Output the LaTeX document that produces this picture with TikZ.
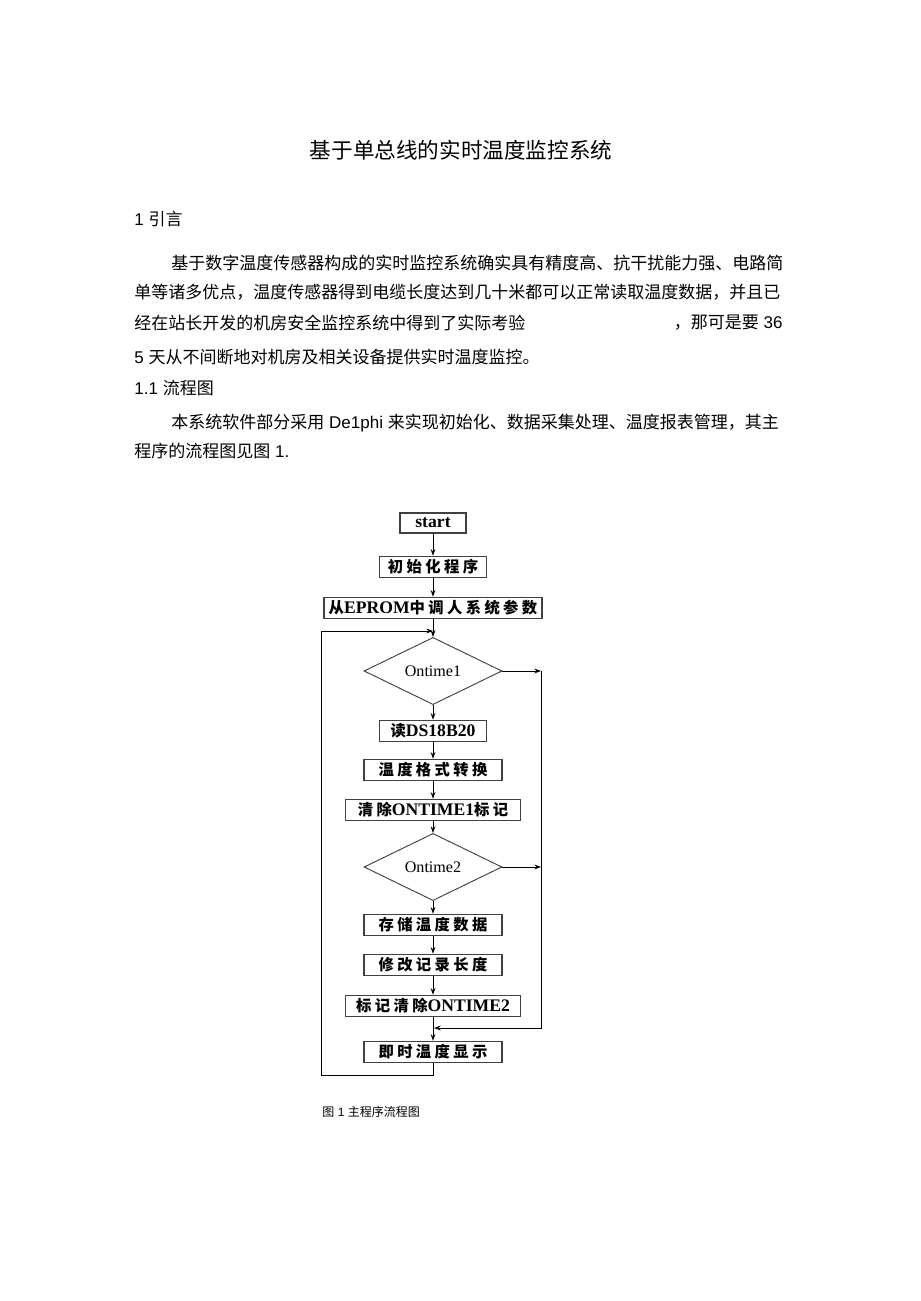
\documentclass[tikz,border=0pt]{standalone}
\usepackage{fontspec}
\setmainfont{Noto Sans CJK SC}
\newfontfamily\latin{Liberation Sans}
\newfontfamily\boxlatin[Scale=1.15]{Liberation Serif}
\newfontfamily\boxcjk[LetterSpace=22]{Noto Sans CJK SC}
\usepackage{tikz}
\usetikzlibrary{arrows.meta, shapes.geometric}

\tikzset{
  para/.style={anchor=west, inner sep=0, font=\fontsize{12.75pt}{15pt}\selectfont},
  stepbox/.style={draw=black!75, line width=0.9pt, minimum height=16pt, inner sep=0,
                  font=\fontsize{11.5pt}{12pt}\selectfont\boxcjk\bfseries},
  test/.style={draw=black!75, line width=0.7pt, diamond, minimum width=103.5pt, minimum height=42.75pt,
               inner sep=0, font=\fontsize{10.5pt}{12pt}\selectfont\boxlatin},
}

\begin{document}
\begin{tikzpicture}[x=0.75pt, y=-0.75pt, >={Stealth[length=5pt,width=3.6pt]}, line width=0.7pt]
             \useasboundingbox (0,0) rectangle (920,1301);
             \node[font=\fontsize{16.2pt}{18pt}\selectfont] (title) at (461,150) {基于单总线的实时温度监控系统};
             \node[para] (sec1) at (134,219) {{\latin 1 }引言};
             \node[para] (p1) at (171,263) {基于数字温度传感器构成的实时监控系统确实具有精度高、抗干扰能力强、电路简};
             \node[para] (p2) at (134,292) {单等诸多优点，温度传感器得到电缆长度达到几十米都可以正常读取温度数据，并且已};
             \node[para] (p3) at (134,323) {经在站长开发的机房安全监控系统中得到了实际考验};
             \node[para, anchor=east] (p3b) at (783,323) {，那可是要{\latin\ 36}};
             \node[para] (p4) at (134,357) {{\latin 5 }天从不间断地对机房及相关设备提供实时温度监控。};
             \node[para] (sec11) at (134,388) {{\latin 1.1 }流程图};
             \node[para] (p5) at (171,423) {本系统软件部分采用{\latin\ De1phi }来实现初始化、数据采集处理、温度报表管理，其主};
             \node[para] (p6) at (134,451) {程序的流程图见图{\latin\ 1.}};

             \node[stepbox, minimum width=49.5pt, minimum height=15pt] (start) at (433,523) {\boxlatin start};
             \node[stepbox, minimum width=80pt] (init) at (433,567) {初始化程序};
             \node[stepbox, minimum width=163.5pt] (eprom) at (433,608) {从{\boxlatin EPROM}中调人系统参数};
             \node[test] (on1) at (433,671) {Ontime1};
             \node[stepbox, minimum width=80pt] (read) at (433,731) {读{\boxlatin DS18B20}};
             \node[stepbox, minimum width=103.5pt] (conv) at (433,770) {温度格式转换};
             \node[stepbox, minimum width=131pt] (clr1) at (433,810) {清除{\boxlatin ONTIME1}标记};
             \node[test] (on2) at (433,867) {Ontime2};
             \node[stepbox, minimum width=103.5pt] (store) at (433,925) {存储温度数据};
             \node[stepbox, minimum width=103.5pt] (modify) at (433,965) {修改记录长度};
             \node[stepbox, minimum width=131pt] (clr2) at (433,1006) {标记清除{\boxlatin ONTIME2}};
             \node[stepbox, minimum width=103.5pt] (show) at (433,1052) {即时温度显示};

             \coordinate (loopin) at (433,631);
             \coordinate (looptl) at (321,631);
             \coordinate (loopbl) at (321,1075);
             \coordinate (loopbr) at (433,1075);
             \coordinate (r1) at (541,671);
             \coordinate (r2) at (541,867);
             \coordinate (rb) at (541,1028);
             \coordinate (merge) at (434,1028);

             \draw [->] (start) -- (init);
             \draw [->] (init) -- (eprom);
             \draw [->] (eprom) -- (on1);
             \draw [->] (on1) -- (read);
             \draw [->] (read) -- (conv);
             \draw [->] (conv) -- (clr1);
             \draw [->] (clr1) -- (on2);
             \draw [->] (on2) -- (store);
             \draw [->] (store) -- (modify);
             \draw [->] (modify) -- (clr2);
             \draw [->] (clr2) -- (show);
             \draw [->] (on1) -- (r1);
             \draw [->] (on2) -- (r2);
             \draw [->] (r1) -- (rb) -- (merge);
             \draw [->] (show) -- (loopbr) -- (loopbl) -- (looptl) -- (loopin);

             \node[anchor=west, inner sep=0, font=\fontsize{9pt}{10pt}\selectfont] (cap) at (322,1112) {图{\latin\ 1 }主程序流程图};
         \end{tikzpicture}
\end{document}
